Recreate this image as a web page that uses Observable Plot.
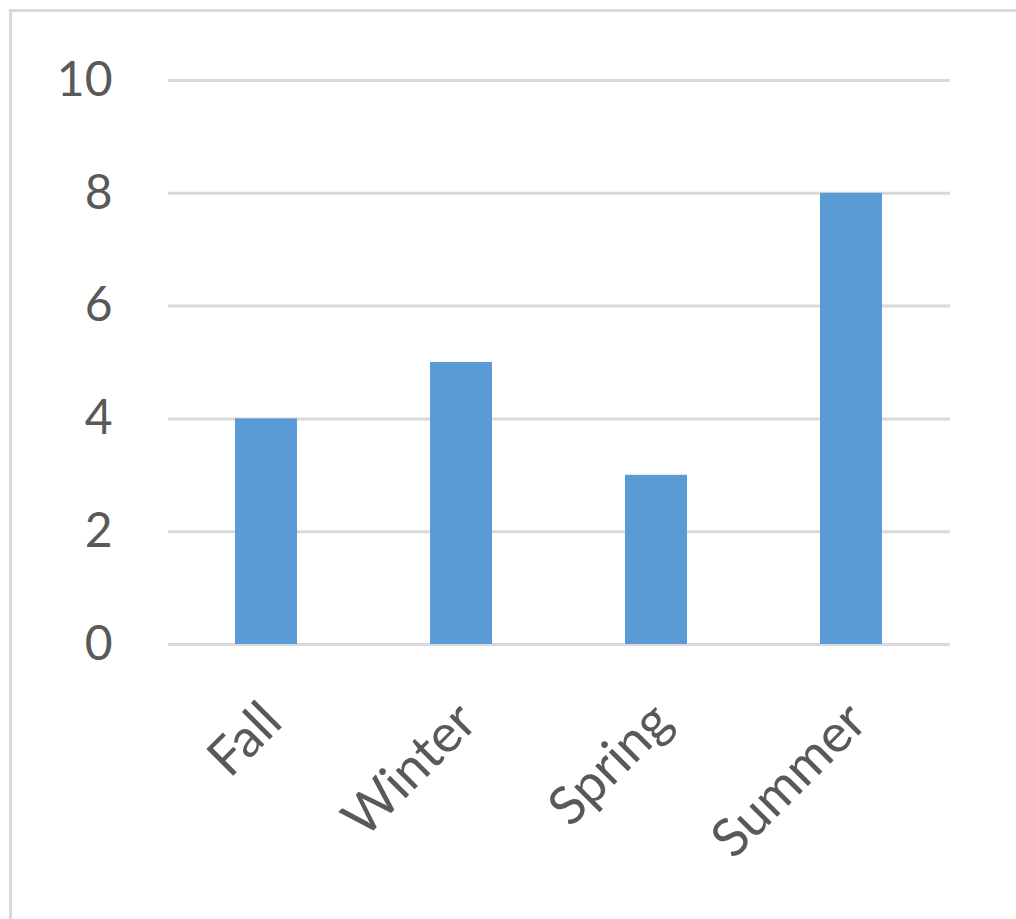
<!DOCTYPE html>
<html>
<head>
<meta charset="utf-8">
<script src="https://cdn.jsdelivr.net/npm/d3@7"></script>
<script src="https://cdn.jsdelivr.net/npm/@observablehq/plot@0.6"></script>
<style>
  html, body { margin: 0; padding: 0; background: #fff; overflow: hidden; }
  #wrap { position: relative; width: 1016px; height: 919px; }
  #frame { position: absolute; left: 9px; top: 9px; width: 1020px; height: 930px; border: 3px solid #d9d9d9; box-sizing: border-box; }
  #chart { position: absolute; left: 0; top: 0; }
</style>
</head>
<body>
<div id="wrap"><div id="frame"></div><div id="chart"></div></div>
<script>
const seasons = ["Fall", "Winter", "Spring", "Summer"];
const counts = [4, 5, 3, 8];
const yTicks = [0, 2, 4, 6, 8, 10];

const data = seasons.map((s, i) => ({season: s, count: counts[i]}));
const font = "Lato, 'Open Sans', sans-serif";

const chart = Plot.plot({
  width: 1016,
  height: 919,
  marginLeft: 168,
  marginRight: 66,
  marginTop: 80,
  marginBottom: 275,
  style: {fontFamily: font, color: "#595959", background: "transparent"},
  x: {domain: seasons, paddingInner: 0.68, paddingOuter: 0.34, label: null},
  y: {domain: [0, 10], label: null},
  marks: [
    Plot.ruleY(yTicks, {stroke: "#d9d9d9", strokeWidth: 3}),
    Plot.barY(data, {x: "season", y: "count", fill: "#5b9bd5"}),
    Plot.axisY({ticks: yTicks, tickSize: 0, tickPadding: 56, fontSize: 48, fill: "#595959", label: null}),
    Plot.axisX({tickSize: 0, tickRotate: -45, tickPadding: 68, dx: 6, fontSize: 53, fill: "#595959", label: null})
  ]
});
document.getElementById("chart").appendChild(chart);
</script>
</body>
</html>
